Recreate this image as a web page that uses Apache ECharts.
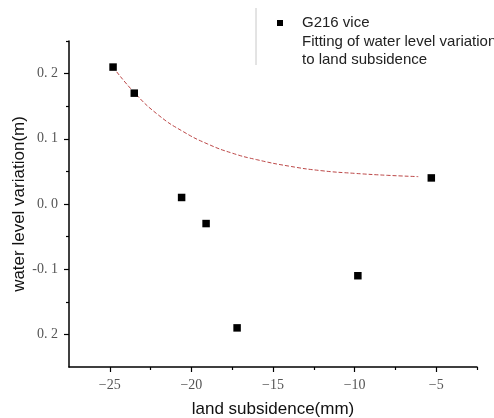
<!DOCTYPE html>
<html>
<head>
<meta charset="utf-8">
<script src="https://cdn.jsdelivr.net/npm/echarts@6/dist/echarts.min.js"></script>
<style>
  html, body { margin: 0; padding: 0; background: #fff; }
  #chart { width: 494px; height: 418px; }
</style>
</head>
<body>
<div id="chart"></div>
<script>
// measured points (land subsidence mm, water level variation m)
const subsidence = [-24.8, -23.5, -20.6, -19.1, -17.2, -9.8, -5.3]
const waterLevel = [0.21, 0.17, 0.01, -0.03, -0.19, -0.11, 0.04]

// fitted curve
const fitX = [-24.8, -23.5, -22, -20.5, -19, -17.5, -16, -14, -12, -10, -8, -6.1]
const fitY = [0.21, 0.171, 0.136, 0.111, 0.092, 0.078, 0.068, 0.058, 0.051, 0.047, 0.044, 0.042]

const xTicks = [-25, -20, -15, -10, -5]
const xTickLabels = ['−25', '−20', '−15', '−10', '−5']
const xMinorTicks = [-22.5, -17.5, -12.5, -7.5, -2.5]
const yTicks = [0.2, 0.1, 0, -0.1, -0.2]
const yTickLabels = ['0. 2', '0. 1', '0. 0', '-0. 1', '0. 2']
const yMinorTicks = [0.25, 0.15, 0.05, -0.05, -0.15]

const scatterName = 'G216 vice'
const fitName = 'Fitting of water level variation\nto land subsidence'

const labelFont = { fontFamily: 'Liberation Serif', fontSize: 14, color: '#555' }
const nameFont = { fontFamily: 'Liberation Sans', fontSize: 17, color: '#111' }

const chart = echarts.init(document.getElementById('chart'))
chart.setOption({
  animation: false,
  backgroundColor: '#fff',
  grid: { left: 69, right: 17, top: 41, bottom: 51, containLabel: false, outerBoundsMode: 'none' },
  legend: {
    orient: 'vertical',
    left: 257,
    top: 9,
    itemWidth: 34,
    itemHeight: 6,
    itemGap: 1,
    textStyle: { fontFamily: 'Liberation Sans', fontSize: 15, color: '#222', lineHeight: 18 },
    data: [
      { name: scatterName, icon: 'path://M0 0H10V10H0Z', itemStyle: { color: '#000', opacity: 1 } },
      { name: fitName, itemStyle: { opacity: 0 }, lineStyle: { opacity: 0 } }
    ]
  },
  graphic: [{
    type: 'line',
    shape: { x1: 256, y1: 8, x2: 256, y2: 65 },
    style: { stroke: '#c8c8c8', lineWidth: 1 }
  }],
  xAxis: [{
    type: 'value',
    min: -27.5,
    max: -2.5,
    name: 'land subsidence(mm)',
    nameLocation: 'middle',
    nameGap: 34,
    nameMoveOverlap: false,
    nameTextStyle: nameFont,
    axisLine: { onZero: false, lineStyle: { color: '#000', width: 1.5 } },
    axisTick: { customValues: xTicks, length: 5, lineStyle: { color: '#000', width: 1.2 } },
    axisLabel: {
      customValues: xTicks,
      margin: 11,
      ...labelFont,
      formatter: v => xTickLabels[xTicks.indexOf(v)] ?? ''
    },
    splitLine: { show: false }
  }, {
    type: 'value',
    min: -27.5,
    max: -2.5,
    position: 'bottom',
    axisLine: { show: false, onZero: false },
    axisTick: { customValues: xMinorTicks, length: 3, lineStyle: { color: '#000', width: 1.2 } },
    axisLabel: { show: false },
    splitLine: { show: false }
  }],
  yAxis: [{
    type: 'value',
    min: -0.25,
    max: 0.25,
    name: 'water level variation(m)',
    nameLocation: 'middle',
    nameGap: 41,
    nameMoveOverlap: false,
    nameTextStyle: nameFont,
    axisLine: { show: true, onZero: false, lineStyle: { color: '#000', width: 1.5 } },
    axisTick: { show: true, customValues: yTicks, length: 5, lineStyle: { color: '#000', width: 1.2 } },
    axisLabel: {
      customValues: yTicks,
      margin: 11,
      ...labelFont,
      formatter: v => yTickLabels[yTicks.findIndex(t => Math.abs(t - v) < 1e-9)] ?? ''
    },
    splitLine: { show: false }
  }, {
    type: 'value',
    min: -0.25,
    max: 0.25,
    position: 'left',
    axisLine: { show: false, onZero: false },
    axisTick: { show: true, customValues: yMinorTicks, length: 3, lineStyle: { color: '#000', width: 1.2 } },
    axisLabel: { show: false },
    splitLine: { show: false }
  }],
  series: [{
    name: fitName,
    type: 'line',
    smooth: true,
    symbol: 'none',
    data: fitX.map((x, i) => [x, fitY[i]]),
    lineStyle: { color: '#b02828', width: 1, type: [4, 2], opacity: 0.85 },
    itemStyle: { color: '#b02828' },
    z: 2
  }, {
    name: scatterName,
    type: 'scatter',
    symbol: 'rect',
    symbolSize: 7.5,
    data: subsidence.map((x, i) => [x, waterLevel[i]]),
    itemStyle: { color: '#000', opacity: 1 },
    z: 3
  }]
})
</script>
</body>
</html>
